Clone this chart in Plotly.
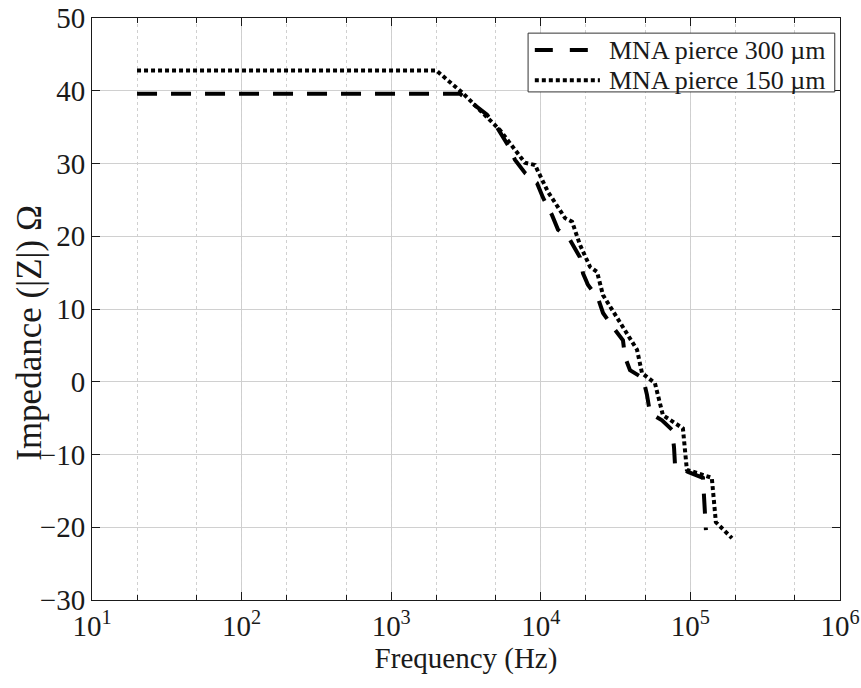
import plotly.graph_objects as go

# Impedance magnitude vs frequency for two pierce depths
freq_300 = [20, 2880, 3630, 4370, 5090, 6040, 6730, 7840, 9440, 10350, 11890,
            13040, 15670, 18280, 19150, 20690, 24110, 26060, 30400, 35420,
            36540, 39470, 48200, 51260, 53700, 64600, 75300, 77700, 78900,
            96400, 121300, 127000]
z_300 = [39.6, 39.6, 38.0, 36.7, 35.0, 32.5, 30.5, 28.7, 27.3, 25.3, 22.9,
         20.9, 19.5, 17.1, 14.9, 13.3, 11.5, 9.45, 7.5, 5.7,
         3.4, 1.6, 0.5, -1.8, -4.3, -5.3, -6.6, -9.0, -11.4,
         -12.4, -13.2, -20.4]

freq_150 = [20, 2000, 3000, 5330, 7830, 9140, 11170, 14520, 16180, 18290,
            21330, 23760, 26060, 31350, 36560, 43980, 47470, 57950, 65500,
            89100, 94700, 139000, 148000, 189600]
z_150 = [42.8, 42.8, 39.7, 34.6, 30.1, 29.8, 26.1, 22.5, 22.0, 18.8,
         15.8, 15.1, 11.9, 9.2, 7.1, 4.4, 1.2, -0.2, -4.6,
         -6.4, -12.1, -13.2, -19.3, -21.5]

series_names = ["MNA pierce 300 µm", "MNA pierce 150 µm"]

x_ticks = [10, 100, 1000, 10000, 100000, 1000000]
x_tick_text = ["10<sup>1</sup>", "10<sup>2</sup>", "10<sup>3</sup>",
               "10<sup>4</sup>", "10<sup>5</sup>", "10<sup>6</sup>"]
y_ticks = [-30, -20, -10, 0, 10, 20, 30, 40, 50]

FONT = "Liberation Serif"
INK = "#1a1a1a"
DASH_300 = "20px,14px"
DASH_150 = "4px,3px"

fig = go.Figure()
fig.add_trace(go.Scatter(
    x=freq_300, y=z_300, mode="lines", name=series_names[0],
    line=dict(color="black", width=4, dash=DASH_300),
))
fig.add_trace(go.Scatter(
    x=freq_150, y=z_150, mode="lines", name=series_names[1],
    line=dict(color="black", width=4, dash=DASH_150),
))

# boxed key in the upper right corner of the axes
key_shapes = [
    dict(type="rect", xref="paper", yref="paper", x0=0.583, x1=0.993,
         y0=0.873, y1=0.974, line=dict(color="#333", width=1),
         fillcolor="white", layer="above"),
    dict(type="line", xref="paper", yref="paper", x0=0.592, x1=0.679,
         y0=0.945, y1=0.945, line=dict(color="black", width=4, dash="18px,17px"),
         layer="above"),
    dict(type="line", xref="paper", yref="paper", x0=0.592, x1=0.679,
         y0=0.893, y1=0.893, line=dict(color="black", width=4, dash=DASH_150),
         layer="above"),
]
annotations = [
    dict(xref="paper", yref="paper", x=0.688, y=yy, text=name, showarrow=False,
         xanchor="left", yanchor="middle",
         font=dict(family=FONT, size=26, color=INK))
    for yy, name in zip([0.945, 0.893], series_names)
]
# vertical axis label
annotations.append(dict(
    xref="paper", yref="paper", x=-0.083, y=0.459, text="Impedance (|Z|) Ω",
    showarrow=False, textangle=-90, xanchor="center", yanchor="middle",
    font=dict(family=FONT, size=35, color=INK),
))

grid_col = "rgba(205,205,205,0.95)"
fig.update_layout(
    width=861, height=688,
    margin=dict(l=92, r=21, t=18, b=88),
    paper_bgcolor="white", plot_bgcolor="white",
    font=dict(family=FONT, color=INK, size=22),
    showlegend=False,
    shapes=key_shapes,
    annotations=annotations,
    xaxis=dict(
        type="log", range=[1, 6], automargin=False,
        tickvals=x_ticks, ticktext=x_tick_text,
        ticks="inside", ticklen=8, tickcolor=INK,
        showline=True, linecolor=INK, linewidth=1, mirror="ticks",
        showgrid=True, gridcolor=grid_col, gridwidth=1,
        minor=dict(ticks="inside", ticklen=5, tickcolor=INK,
                   showgrid=True, gridcolor=grid_col, griddash="dot"),
        tickfont=dict(family=FONT, size=29, color=INK),
        title=dict(text="Frequency (Hz)", font=dict(family=FONT, size=29, color=INK),
                   standoff=4),
        zeroline=False,
    ),
    yaxis=dict(
        range=[-30, 50], tickvals=y_ticks, automargin=False,
        ticks="inside", ticklen=8, tickcolor=INK,
        showline=True, linecolor=INK, linewidth=1, mirror="ticks",
        showgrid=True, gridcolor=grid_col, gridwidth=1,
        tickfont=dict(family=FONT, size=29, color=INK),
        zeroline=False,
    ),
)

fig.write_html("out.html")
